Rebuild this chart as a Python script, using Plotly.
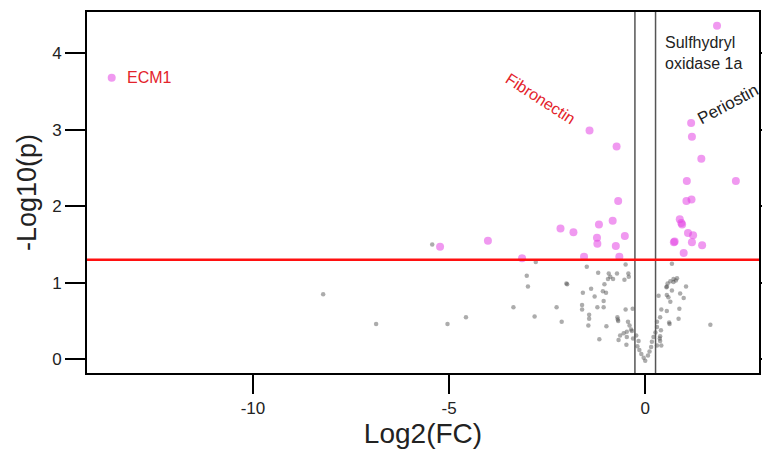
import plotly.graph_objects as go

# Significant proteins (p < 0.05)
sig_x = [-13.6, 1.83, -1.42, -0.73, 1.17, 1.19, 1.43, 1.06, 2.31, -0.69,
         -2.16, -1.83, -1.18, -0.83, -1.23, -1.22, -0.75, -0.52, -3.14, -1.56,
         -0.66, -5.23, -4.01, 1.05, 1.18, 0.88, 0.94, 0.92, 1.09, 1.22,
         0.73, 0.75, 1.19, 1.45, 0.98]
sig_y = [3.68, 4.36, 2.99, 2.78, 3.09, 2.91, 2.62, 2.33, 2.33, 2.07,
         1.71, 1.66, 1.76, 1.81, 1.59, 1.51, 1.48, 1.61, 1.32, 1.34,
         1.34, 1.47, 1.55, 2.07, 2.09, 1.83, 1.76, 1.78, 1.65, 1.62,
         1.53, 1.54, 1.53, 1.49, 1.39]

# Non-significant proteins
ns_x = [-8.21, -6.86, -5.04, -4.57, -3.36, -2.82, -3.02, -2.99, -1.99, -2.01,
        -2.26, -2.13, -2.79, -1.49, -1.20, -0.93, -0.89, -0.82, -0.72, -0.95,
        -0.50, -0.43, -0.42, -0.53, -1.38, -1.59, -1.08, -1.00, -1.29, -1.04,
        -1.06, -1.22, -1.06, -1.61, -1.61, -1.43, -1.43, -1.45, -0.99, -1.17,
        -0.71, -0.69, -0.70, -0.50, -0.32, -0.44, -0.40, -0.36, -0.47, -0.55,
        -0.64, -0.47, -0.68, -0.48, -0.31, -0.34, -0.20, -0.15, -0.10, -0.04,
        0.00, 0.07, 0.11, 0.15, 0.17, 0.21, 0.26, 0.30, -0.23, -0.17,
        0.30, 0.38, 0.41, 0.34, 0.54, 0.57, 0.64, 0.72, 0.78, 0.55,
        0.59, 0.64, 0.87, 0.85, 0.62, 0.40, 0.37, 0.30, 0.41, 0.68,
        0.81, 0.72, 0.55, 0.68, 1.04, 0.89, 0.98, 0.55, 0.61, 1.66,
        0.38, 0.38, -5.43]
ns_y = [0.85, 0.46, 0.46, 0.55, 0.68, 0.56, 1.09, 0.95, 0.98, 0.99,
        0.68, 0.49, 1.27, 1.21, 1.13, 1.12, 1.08, 1.05, 1.12, 1.05,
        1.24, 1.12, 1.08, 1.04, 0.92, 0.87, 0.89, 0.87, 0.82, 0.98,
        0.76, 0.68, 0.68, 0.71, 0.65, 0.58, 0.53, 0.44, 0.43, 0.26,
        0.55, 0.50, 0.52, 0.65, 0.66, 0.49, 0.44, 0.39, 0.36, 0.34,
        0.31, 0.29, 0.25, 0.19, 0.27, 0.37, 0.17, 0.12, 0.07, 0.02,
        -0.02, 0.05, 0.10, 0.16, 0.23, 0.29, 0.35, 0.42, 0.31, 0.24,
        0.49, 0.55, 0.65, 0.83, 0.94, 0.99, 1.02, 1.05, 1.03, 0.84,
        0.81, 0.75, 0.66, 0.53, 0.46, 0.38, 0.27, 0.18, 0.18, 1.25,
        1.06, 1.01, 0.95, 0.90, 0.95, 0.86, 0.80, 0.63, 0.48, 0.45,
        0.30, 0.24, 1.50]

p_threshold = 1.301
fc_threshold = 0.263

x_ticks = [-10, -5, 0]
y_ticks = [0, 1, 2, 3, 4]

FONT = "Liberation Sans, Arial, sans-serif"

fig = go.Figure()
fig.add_trace(go.Scatter(
    x=ns_x, y=ns_y, mode="markers",
    marker=dict(size=4.5, color="rgba(70,70,70,0.45)", line=dict(width=0)),
    showlegend=False, hoverinfo="x+y"))
fig.add_trace(go.Scatter(
    x=sig_x, y=sig_y, mode="markers",
    marker=dict(size=8, color="rgba(228,70,228,0.55)", line=dict(width=0)),
    showlegend=False, hoverinfo="x+y"))

# threshold lines
for xv in (-fc_threshold, fc_threshold):
    fig.add_shape(type="line", xref="x", yref="paper", x0=xv, x1=xv, y0=0, y1=1,
                  line=dict(color="#555555", width=1.5))
fig.add_shape(type="line", xref="paper", yref="y", x0=0, x1=1,
              y0=p_threshold, y1=p_threshold, line=dict(color="#FF1010", width=2.5))

red = "#E3232B"
fig.add_annotation(x=-13.27, y=3.68, text="ECM1", showarrow=False, xanchor="left",
                   font=dict(family=FONT, size=16, color=red))
fig.add_annotation(x=-2.68, y=3.41, text="Fibronectin", showarrow=False, textangle=33,
                   font=dict(family=FONT, size=16, color=red))
fig.add_annotation(x=0.45, y=4.0, text="Sulfhydryl<br>oxidase 1a", showarrow=False,
                   xanchor="left", align="left",
                   font=dict(family=FONT, size=16, color="#222222"))
fig.add_annotation(x=2.1, y=3.33, text="Periostin", showarrow=False, textangle=-28,
                   font=dict(family=FONT, size=17, color="#222222"))

fig.update_layout(
    width=762, height=454,
    margin=dict(l=87, r=3, t=12, b=81),
    paper_bgcolor="white", plot_bgcolor="white",
    font=dict(family=FONT, color="#222222"),
)
fig.update_xaxes(
    range=[-14.23, 2.9], tickvals=x_ticks, ticktext=[str(v) for v in x_ticks],
    showgrid=False, zeroline=False, automargin=False,
    showline=True, linecolor="black", linewidth=2, mirror=True,
    ticks="outside", ticklen=19, tickwidth=2, tickcolor="black",
    tickfont=dict(family=FONT, size=17, color="#222222"),
    title=dict(text="Log2(FC)", font=dict(family=FONT, size=28, color="#222222"), standoff=2),
)
fig.update_yaxes(
    range=[-0.18, 4.54], tickvals=y_ticks, ticktext=[str(v) for v in y_ticks],
    showgrid=False, zeroline=False, automargin=False,
    showline=True, linecolor="black", linewidth=2, mirror="ticks",
    ticks="outside", ticklen=20, tickwidth=2, tickcolor="black",
    tickfont=dict(family=FONT, size=17, color="#222222"),
    title=dict(text="-Log10(p)", font=dict(family=FONT, size=27, color="#222222"), standoff=8),
)

fig.write_html("out.html", config={"displayModeBar": False},
               post_script="document.body.style.margin='0';")
